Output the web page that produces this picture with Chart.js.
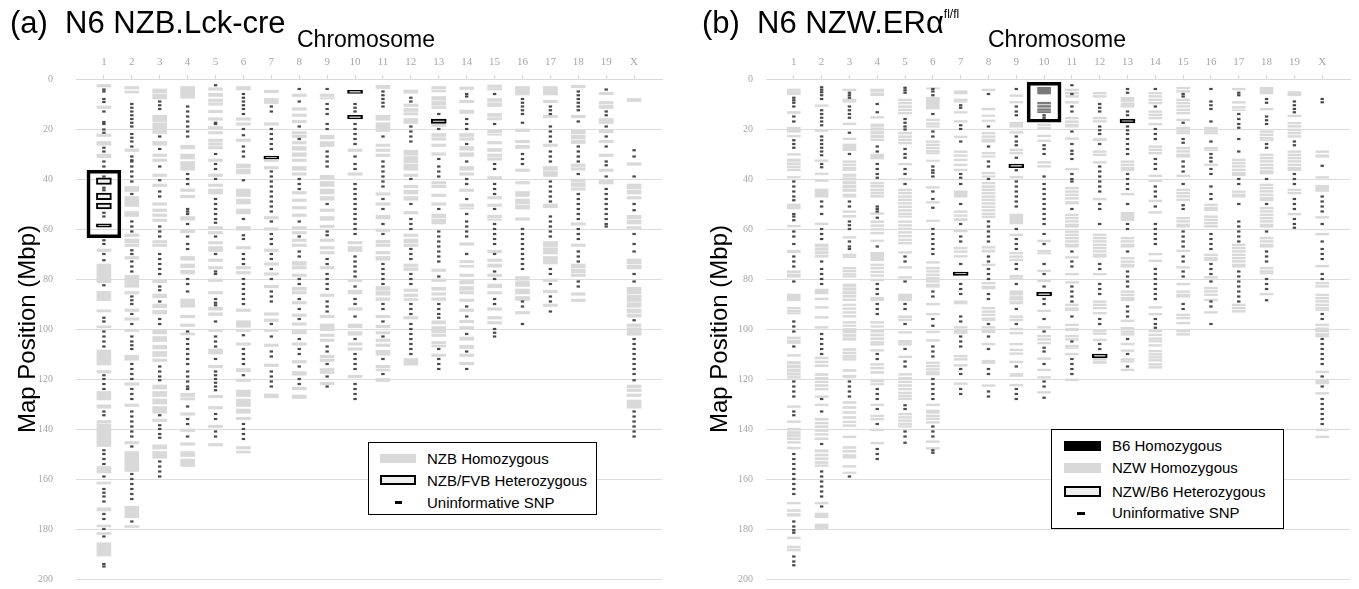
<!DOCTYPE html>
<html>
<head>
<meta charset="utf-8">
<script src="https://cdn.jsdelivr.net/npm/chart.js@4.4.1/dist/chart.umd.min.js"></script>
<style>
html,body{margin:0;padding:0;background:#fff;}
body{width:1359px;height:589px;position:relative;overflow:hidden;font-family:'Liberation Sans',Arial,sans-serif;}
canvas{position:absolute;top:0;}
#cA{left:0;}
#cB{left:680px;}
.t{position:absolute;white-space:pre;color:#000;line-height:1;}
.title{font-size:31px;top:7px;}
.chrom{font-size:23px;top:28px;}
.legend{position:absolute;border:1.5px solid #000;background:#fff;box-sizing:border-box;}
.sw{position:absolute;box-sizing:border-box;}
.lt{position:absolute;font-size:15px;line-height:15px;white-space:pre;color:#000;}
sup{font-size:12px;vertical-align:15px;line-height:0;}
</style>
</head>
<body>
<canvas id="cA" width="680" height="589"></canvas>
<canvas id="cB" width="679" height="589"></canvas>

<div class="t title" style="left:10px;">(a)  N6 NZB.Lck-cre</div>
<div class="t chrom" style="left:297px;">Chromosome</div>
<div class="t title" style="left:702px;">(b)  N6 NZW.ERα<sup>fl/fl</sup></div>
<div class="t chrom" style="left:988px;">Chromosome</div>

<div class="legend" style="left:368px;top:442px;width:229px;height:73px;">
  <div class="sw" style="left:11px;top:11px;width:36px;height:9px;background:#d9d9d9;"></div>
  <div class="lt" style="left:58px;top:8px;">NZB Homozygous</div>
  <div class="sw" style="left:11px;top:32px;width:36px;height:10px;border:2px solid #000;background:#efefef;"></div>
  <div class="lt" style="left:58px;top:30px;">NZB/FVB Heterozygous</div>
  <div class="sw" style="left:26px;top:58px;width:7px;height:3px;background:#000;"></div>
  <div class="lt" style="left:58px;top:52px;">Uninformative SNP</div>
</div>

<div class="legend" style="left:1051px;top:429px;width:233px;height:100px;">
  <div class="sw" style="left:12px;top:11px;width:37px;height:10px;background:#000;"></div>
  <div class="lt" style="left:60px;top:8px;">B6 Homozygous</div>
  <div class="sw" style="left:12px;top:33px;width:37px;height:10px;background:#d9d9d9;"></div>
  <div class="lt" style="left:60px;top:30px;">NZW Homozygous</div>
  <div class="sw" style="left:12px;top:56px;width:37px;height:11px;border:2px solid #000;background:#efefef;"></div>
  <div class="lt" style="left:60px;top:54px;">NZW/B6 Heterozygous</div>
  <div class="sw" style="left:25px;top:82px;width:8px;height:3px;background:#000;"></div>
  <div class="lt" style="left:60px;top:75px;">Uninformative SNP</div>
</div>

<script>
// ---------------- categories ----------------
const chromosomes = ['1','2','3','4','5','6','7','8','9','10','11','12','13','14','15','16','17','18','19','X'];

// ---------------- panel (a) N6 NZB.Lck-cre ----------------
// NZB homozygous segments per chromosome, [start, end] in Mbp
const nzbHomozygous = [
 [[2.2,3.2],[10.8,11.8],[22,23],[25,26.5],[30,31.5],[68,69],[74,81.5],[85,88.6],[92.3,93.2],[98.7,99.5],[108.4,114.4],[116.6,117.6],[125,128.4],[130.3,131.7],[136.6,137.6],[138,147],[155,157.6],[161.2,162],[171.5,172.8],[178.4,179.2],[181.4,182.2],[185.5,190.8]],
 [[3,4],[4.8,5.6],[28,29],[43,45],[47,51],[53,55],[62,63],[64,65.5],[66,67],[71,72],[78.5,83.3],[85,86],[92,93],[95.5,96.5],[100.2,101],[110.5,112.5],[121.5,122.5],[130,131],[145,146],[149,157],[170.9,175.5],[178.6,179.4]],
 [[4,5.5],[6,8],[14.5,17],[17.5,20],[20.5,21.8],[25,26.5],[30,31],[32,33],[38,39],[42,43],[49.5,50.5],[52,53],[54,55],[56,57],[64.6,65.5],[66,67],[80.5,81.5],[86,87.5],[90,91.5],[92.6,94],[100.5,102],[103,105],[106.5,108],[109,111],[112,113],[122.4,124],[125,127],[128,130],[131,133.7],[136,137],[146.3,148],[149,151.7]],
 [[3,7.7],[26.5,28],[30,32],[33,36.5],[44,45],[46.5,47.5],[55,56.5],[60.5,61.5],[71,72.5],[74,75.5],[76.5,78],[88,91.3],[94.5,95.5],[98,99],[101.6,102.4],[125.7,127],[127.5,128.4],[133.5,134.5],[140,141],[145.5,146.5],[149,151],[152,155]],
 [[3.5,4.5],[5.7,7],[8,9],[9.5,10.5],[12.5,13.5],[15.5,16.5],[19,20],[21,22],[24,25],[25.5,26.5],[27,28],[32,33],[38,39],[42,43],[44,46],[59,60],[61,62],[65,66],[67,69],[72,73],[75,76],[80,81],[85,86],[91.3,92.5],[93.5,94.6],[100.2,101],[108,110],[114.5,115.5],[126.5,127.5],[131,132],[138.5,139.5],[145.8,146.8]],
 [[3,4.4],[15.5,16.5],[17.5,18.5],[24,25],[34,35.5],[36,38],[44,47],[48,50],[52,54],[59,60.5],[67,68],[75,76],[77,78],[92,93],[96.7,99.3],[100.2,101],[105.5,106.5],[115.8,117.1],[120,121],[124.4,127],[128,131],[132,133.7],[135.3,136.3],[147,148],[148.8,149.6]],
 [[4.5,5.5],[7.8,9.8],[17.5,18.5],[32.2,33],[35,36],[55,56],[59.5,60.5],[68,69],[73.5,74.5],[77.5,78.5],[82.5,83.5],[93.5,94.5],[96,97],[100.2,101],[106,107],[114,115],[126,127.5]],
 [[6,7],[11.5,12.5],[14,15],[16.5,17.5],[21,22],[22.5,23.5],[25,26],[27,28.5],[29.5,31],[32,33],[35,36.5],[37.5,38.5],[45,46],[48,49],[51,52],[54,55],[59,60],[61,62],[64,65],[66,67],[73,74.5],[75,76],[78,79],[83.3,84.5],[85,86],[89,90],[94,95],[97.5,98.5],[100.5,102],[105.5,106.5],[112.6,113.6],[117,118.5],[123.3,124.3],[126.4,127.8]],
 [[6,7],[7.5,8],[22.5,24],[25,27],[38.5,40],[41,43],[44,46],[47,48.5],[52,53],[55,56.5],[58.5,59.5],[64,65],[67,68],[69,70],[75,76],[86,87],[94.5,95.5],[98,100.7],[102,103],[104,105],[110.5,111.5],[112,113],[115.8,116.8],[117,117.8],[121.3,122.3]],
 [[28,29],[37.5,38.5],[65,66],[67,69],[80.2,81],[84.5,86],[91.5,92.5],[98,99.5],[101,102.5],[105.5,106.5],[107.5,108.5],[118.5,119.5]],
 [[2.5,3.8],[14.5,16.5],[17.5,21],[26,27],[28,29],[30,31],[45.5,46.5],[49.5,50.5],[54.5,56],[60,61],[64.5,65.5],[66,67],[69,70],[71,72.5],[83,84.5],[85,86.5],[87.5,88.6],[94.5,95.5],[98.5,99.5],[101,102],[104,105],[106,107],[108.5,110.5],[114.5,115.5],[116,116.8],[119.8,121]],
 [[4.4,5.7],[10,11],[11.8,13],[13.5,14.4],[15.8,17.8],[28.5,30.5],[31,33.5],[34,36.5],[38,39],[42.5,43.5],[44.5,46],[47,48.5],[53,54],[62,63],[64,65.5],[66,67],[74,75],[75.5,76.6],[84,85],[86,87],[87.8,88.6],[95,96],[111.8,114.5]],
 [[3,4],[4.5,5.2],[7,8.5],[9,10.5],[11,11.8],[18,19],[21.8,23],[23.5,24.5],[26,27],[29.5,30.5],[41,42],[42.5,43.5],[46,47],[49.5,50.5],[54,55.5],[56,58],[76,77],[80,81],[83.3,84.5],[85.5,86.5],[87.5,88.6],[96.7,98],[99,100.7],[100.5,101.5],[102,103],[105,106],[106.5,107.2],[110,111]],
 [[3.2,4.2],[8.5,9.5],[12.4,13.8],[21.8,23],[23.5,24.5],[27,28.5],[29.5,31],[35,36.5],[37.5,38.5],[44,45],[50,51],[51.5,52],[65.5,66.5],[72.6,73.5],[74.5,75.3],[78,79],[80.6,82],[83,84.5],[85,86],[88,89],[92,93],[96.5,97.5],[99,100],[103.2,104.5],[106.5,107.8],[110,111],[113.3,114.3]],
 [[2.4,3.4],[3.8,4.4],[7.8,9],[9.5,11],[13.8,15],[15.5,16.4],[20.5,21.5],[22,22.5],[25,26],[27.8,29],[30,31],[31.5,32.5],[39,40],[47,48],[50,51],[54.5,55.5],[56,56.5],[68.5,69.5],[72,73],[74,75.3],[78,79],[82,83.5],[85,86],[91.5,92.5],[95,96],[97,98]],
 [[3,6.4],[20,21],[24.5,25.5],[26.5,27.8],[36,37],[41,42],[45,47],[48,50],[50.5,52],[55.5,56.5],[79,80.5],[81,83],[84,86],[87,88.6],[93,94]],
 [[3,6.4],[8.5,9.5],[14.5,15.5],[26,27],[35,36.5],[37,39],[50,51.5],[65,67],[67.5,70],[71,74],[80,81],[84.5,85.5],[90,91]],
 [[2.5,3.5],[14.5,15.5],[20.5,22],[22.5,24],[24.5,25.8],[34,35],[35.5,36.5],[40,41],[41.5,43],[43.5,44.5],[57.5,58.5],[66,67],[74,75.5],[76,77.5],[78,79],[85.5,86.5],[88,89]],
 [[5.3,6.3],[9,10],[10.5,11.8],[15.8,16.8],[17,17.8],[20.5,21.5],[24.5,25.5],[30,31],[36,37],[40.5,42]],
 [[7.8,9],[33.5,34.5],[42,44],[44.5,46],[47,48],[54.5,56],[56.5,58],[59,59.8],[72,74],[74.5,76],[83.3,86],[86.5,89],[89.5,91.3],[92,93.5],[94,95.3],[98,99],[99.5,100.7],[100.5,102.5],[122.4,123.5],[124,125],[126,127],[128.4,131.7]]
];
// NZB/FVB heterozygous segments
const nzbFvbHeterozygous = [
 [[39.5,42.2],[45.6,48.3],[49.6,52],[57.9,59.3]],[],[],[],[],[],[[30.8,32]],[],[],[[4.5,5.8],[14.5,16]],[],[],[[16,17.8]],[],[],[],[],[],[],[]
];
// uninformative SNP positions
const nzbSnp = [
 [4.2,5,8,9.2,13,17.2,18,20.2,21.5,27.5,29,33,35,37,39,43.5,44.5,53.5,55,64.5,66,70,72.5,82.5,95.5,97,101,103,105,107,118.5,120,122,124,133,134.5,148.5,150,152,154,159,164,165.5,167,169,174,176,180,183,194,195],
 [10,11.5,13,14.5,16,17.5,19,22,23.5,25,27,31,32.5,33,35,37,39,41,46,57,59,61,68.5,70,73,75,77,87,88.5,90,94,98,103,105,106.5,108,114,116,118,120,124,126,128,133,135,137,139,141,143,147,158,160,162,164,166,168,177],
 [9,10.5,12,23,28,35,40.5,45,47,59,61,63,70,72,74,76,78,83,84.5,89,96,98,115,117,119,120.5,134.5,138.5,140,142,143.5,153,155,157,159],
 [11,13,15,17,19,21,23,38,40,42,52,53,54,58,63,66,68,80,82,85,101,104,106,108,110,112,114,117,119,121,123,124,131,136,138,143],
 [2.5,17.5,18,30,34,36,40,48,50,52,54,56,57.5,63,70,77,78,88,89.5,90.5,97,103,105,107,112,117,118.5,120,121.5,123,124.5,134,136,141,143],
 [6,7.5,9,10.5,12,14,20,22.5,27,29,31,40.5,56,62.5,64,70,72,74,80,82,84,86,88,90,102.5,108,110,112,114,118.5,138,140,142,144],
 [11,13,20,22,24,26,28,37,39,41,43,45,47,49,51,53,57,62,64,66,70,72,76,80,85,87,89,98,103,109,111,117,119,121,123],
 [4,9,19,24,40,42,44,57,63,69,71,80,82,88,92,96,104,108,110,115,120,122],
 [4,10,12,14,18,20,29,31,33,35,50,61,62.5,72,74,78,80,82,84,89,91,93,107,109,114,119,123],
 [10,11.5,13,18,20,22,24,26,31,34,36,42,44,46,48,50,52,54,56,58,60,62,71,73,75,77,79,83,88,90,95,104,110,112,114,116,122,124,126,128],
 [5,6.5,8,9.5,11,23,33,35,37,39,41,43,48,52,58,62,74,76,78,80,82,90,92,97,103,112,118],
 [7.5,9,19,21,23,25,40,50,56,58,60,68,70,72,78,80,82,90,92,94,98,100,102,104,106,108,110],
 [14,20,32,35,37,39,52,61,63,65,67,69,71,73,79,90,92,94,95.5,108,112,114,116],
 [6,7,16,18,20,26,33,40,42,48,54,57,59,61,63,70,91,95,102,109,116],
 [6,18,34,36,42,44,46,52,58,60,62,64,66,70,77,80,88,90,100,101.5,103],
 [8,9.5,11,12.5,14,17.5,30,32,34,60,62,64,66,68,70,72,74,76,89,91,98],
 [11,12.5,14,19,21,23,25,29,31,33,41,43,45,47,49,55,57,59,61,63,76,78,82,87,89,93],
 [5,6.5,8,9.5,11,12.5,17,27,29,31,33,38,46,48,50,52,54,56,60,62,64,69,71,73,81,83],
 [4.2,13,14.5,19,23,27,33,34.5,39,44,46,48,50,52,54,56,58,59],
 [28.5,31,39,50,52.5,62,66,69,78,81,96.5,104,106,108,110,112,114,116,118,120.5,133,135,137,139,141,143]
];
// highlighted region (large outlined box)
const nzbHighlight = [[[36.5,63.5]],[],[],[],[],[],[],[],[],[],[],[],[],[],[],[],[],[],[],[]];

// ---------------- panel (b) N6 NZW.ERα fl/fl ----------------
const nzwHomozygous = [
 [[4,4.6],[5,5.5],[5.8,6.3],[13,13.8],[19.3,20],[20.5,21.3],[22.5,23.2],[29.8,30.5],[32,33],[33.5,34.3],[34.8,35.5],[36,36.7],[39,39.6],[50,51],[51.3,52],[58.5,59.2],[68.5,69.5],[76.7,77.5],[78,79.3],[86,88.7],[91.3,92],[92.5,93.2],[93.5,94],[103.2,104],[104.5,105.8],[110.2,110.9],[113,114],[114.5,115.5],[116,117],[117.5,118.5],[119,119.7],[130.7,131.4],[136.7,137.4],[139.7,140.5],[141,141.8],[142.2,143],[143.5,144.3],[145,145.7],[147.3,148],[169.3,170],[172.2,173],[173.8,174.9],[183.2,183.9],[186.8,187.5],[188,188.8]],
 [[10.3,11],[20.3,21],[32.3,33],[37.6,38.3],[40.3,41],[44,47.3],[57.6,58.3],[66,67],[67.5,68.5],[69,70],[70.5,71.3],[84,86],[87.6,88.3],[91,91.7],[95,95.7],[99,99.7],[111.2,112],[112.8,113.5],[114.3,115.1],[117.8,118.6],[119.3,120],[120.8,121.5],[122.2,123],[123.7,124.4],[126.7,127.4],[130,130.7],[135.7,136.5],[137.3,138],[138.7,139.5],[140.2,141],[141.8,142.5],[143.5,144.3],[148.3,149.2],[150,150.8],[151.5,152.3],[153,153.8],[154.3,155],[169.3,170],[173.6,175.5],[178,180.2]],
 [[4,4.7],[8,8.6],[8.8,9.3],[17.6,18.3],[23.6,24.3],[26,28.7],[32.7,33.4],[34,34.7],[35.3,36],[36.2,36.7],[38,39],[39.5,40.5],[41,42],[42.5,43.5],[44,45],[46,47.3],[52.7,53.4],[54.5,55.3],[63,63.7],[70,70.7],[71,71.5],[75.3,76],[76.5,77.2],[77.8,78.5],[78.8,79.3],[82,83],[83.5,84.5],[85,86],[86.5,87.3],[88,88.7],[90,90.7],[91.5,92.2],[93,93.7],[94.6,95.3],[97,97.7],[98.4,99],[99.8,100.4],[100.5,101.5],[102,103],[103.5,104.5],[107.8,108.6],[109.2,110],[110.6,111.4],[111.8,112.5],[116.2,117],[118.5,119.5],[129,129.8],[131,131.8],[133,133.8],[135,135.8],[136.8,137.5],[138.3,139],[142.8,143.5],[147,147.8],[148.5,149.3],[150.2,151],[151,151.7],[154.6,155.3],[157.2,157.8]],
 [[4,5],[5.5,6.7],[15,15.7],[18,19],[19.5,20.5],[21,22],[22.5,23.5],[24,24.7],[30,32],[41.3,42],[42.5,43.3],[44,44.8],[45.3,46],[46.5,47.3],[53.5,54.2],[56.7,57.5],[58.3,59],[59.8,60.5],[61.3,62],[64.4,65],[69.3,72.7],[74,74.7],[75.3,76],[76.8,77.5],[78.3,79],[80,80.7],[87.3,88.7],[97,97.7],[98.7,99.3],[100.5,101.3],[102,102.8],[103.5,104.3],[105,105.8],[106,106.5],[108.2,108.9],[113.8,114.5],[115.3,116],[117,117.8],[120.5,121.2],[121.8,122.4],[130,130.7],[134.4,135.1],[135.7,136.4],[140,140.7],[145.3,146]],
 [[8,8.7],[9.3,10],[10.7,11.4],[12,12.7],[13.3,14],[21.3,22],[22.7,23.4],[24,24.7],[25.3,26],[33.7,34.4],[39.7,40.4],[44,44.7],[45.3,46],[46.7,47.4],[48,48.7],[49.4,50.1],[50.8,51.5],[52.2,52.9],[53.6,54.3],[54.8,55.3],[56.7,57.4],[58.2,58.9],[59.6,60.3],[61,61.7],[62.5,63.2],[64,64.7],[65.3,66],[69,69.7],[75,75.7],[79,79.7],[86,88.7],[94.7,95.5],[96,96.7],[101,101.7],[104.5,105.5],[105.8,106.5],[110.8,111.5],[117.8,118.5],[119.3,120],[120.8,121.5],[122.2,123],[123.7,124.4],[125.2,126],[126.5,127.2],[127.6,128.3],[133.7,134.4],[135,135.7],[136.3,137],[137.6,138.3],[138.7,139.3]],
 [[3.5,4],[7.3,12],[16,16.7],[17.5,18.2],[18.7,19.3],[24.7,25.4],[26,26.7],[27.3,28],[28.6,29.3],[29.5,30],[32.4,33],[43,43.7],[49,49.7],[56.4,57],[73,73.7],[75.3,76],[76.6,77.3],[78,78.7],[79.3,80],[80.6,81.3],[82,83.3],[89.7,90.4],[93.7,94.4],[100.8,101.5],[104.2,104.9],[113.2,113.9],[114.5,115.2],[115.8,116.5],[117,117.7],[117.8,118.4],[130,130.7],[132.4,133.7],[134.4,135.1],[135.6,136.3],[137,137.7],[144.7,145.4],[147.4,148.1]],
 [[4.7,6],[8,8.7],[9,9.3],[13,13.7],[16.6,17.3],[22.8,23.5],[28.7,29.4],[30.3,31],[32,32.7],[34,34.7],[36,36.7],[44.7,47.3],[52.7,53.4],[54.3,55],[55.8,56.7],[60.5,61.2],[67.3,68],[68.7,69.4],[70.6,71.3],[88.7,90],[99,99.7],[100.5,101.8],[110.5,111.2],[111.8,112.5],[114.2,114.9],[121.5,122.2]],
 [[4,4.7],[11.7,12.4],[14.4,15],[16.4,17],[21.3,22],[22.7,23.4],[24,25.3],[29.3,30],[30.7,31.3],[37.3,38],[38.7,39.3],[41.3,42],[42.7,43.4],[44,44.7],[45.3,46],[46.7,47.4],[48,48.7],[49.4,50.1],[50.8,51.5],[52.2,52.9],[53.6,54.3],[54.8,55.5],[67,67.7],[68.4,69.3],[74,74.7],[81.3,82],[82.8,83.5],[83.5,84],[91.3,92],[92.7,93.4],[94,94.7],[95.5,96.7],[99,99.7],[100.5,101.5],[105.7,106.4],[112.5,113.2],[113.3,113.8],[122.3,123]],
 [[6.3,7],[9,9.6],[17.3,19.3],[21,21.7],[28,28.7],[29.3,30],[38.9,39.6],[54,58],[62,62.7],[69.3,70],[70.7,71.4],[72,72.7],[78.5,79.2],[79.5,80],[84.7,86.5],[87,88.5],[89,90],[94.7,95.4],[96,96.7],[99.7,100.4],[101.3,102],[105.7,106.4],[108,108.7],[109.5,110.2],[112.8,113.5],[117.8,119],[122.1,122.8]],
 [[18,18.7],[19.3,20],[22.4,23.1],[24.4,25],[33,33.7],[34.6,35.3],[64.4,65.1],[68.5,69.2],[69.5,70],[76.4,77.1],[80.4,81.1],[92.4,93.1],[99,99.7],[102.5,103.2],[103.8,104.5],[105.3,106],[111.5,112.2],[116,116.7],[119,119.7],[125,125.7]],
 [[4,4.7],[5.3,6],[6.6,7.3],[9,9.7],[15.3,16],[16.7,17.4],[18,18.7],[19,19.3],[23.5,24.2],[35.7,36.4],[43.3,44],[44.7,45.4],[46,46.7],[47.4,48.1],[49,50],[54,54.7],[55.3,56],[56.6,57.3],[58,59.3],[60.7,61.4],[62,62.7],[63.3,64],[64.6,65.3],[66,67.3],[71,71.7],[77.7,78.4],[81,81.7],[90,90.7],[91.5,92.7],[98,98.7],[99.7,100.7],[102.5,103.2],[103.8,104.5],[106.5,107.2],[107.5,107.8],[109.7,110.4],[120,120.7]],
 [[5.3,6],[6.6,7.3],[15.3,16],[16.6,17.3],[23.8,24.7],[28.7,29.4],[30,30.7],[33,33.7],[47.7,48.4],[62,62.7],[63.3,64],[64.6,65.3],[66,66.7],[67.3,68],[68.6,69.3],[70,71.3],[77.7,78.4],[88.7,89.4],[90,90.7],[91.3,92],[93.3,94],[100.3,101],[101.5,102.2],[104,104.7],[111.8,112.5],[113,113.8]],
 [[7.3,9],[9.5,11.3],[32.7,33.4],[34,34.7],[35.3,36.7],[45.7,46.4],[53.3,56.7],[63.3,64],[64.6,65.3],[66,67.3],[71.3,72],[72.7,73.4],[74,75.3],[84.7,85.4],[86,86.7],[87.3,88.7],[96.4,97.1],[99.3,100],[100.7,101.4],[101.8,102.5],[105.7,106.4],[108.3,109],[111.8,112.5],[112.7,113.3],[116,116.7]],
 [[5.3,6],[6.6,7.3],[8,8.7],[9.3,10],[12.7,13.4],[14,14.7],[15.3,16],[17.7,18.4],[26.7,27.4],[28,28.7],[29.3,30],[38.4,39.1],[40.4,41.1],[48.4,49.1],[53,53.7],[69.7,70.4],[72.4,73.1],[91,91.7],[93.7,94.4],[100.5,101.2],[102,102.7],[103.5,104.2],[104.6,105.2],[106.2,106.9],[108.5,109.2],[109.8,110.5],[111,111.7],[112.2,112.9],[113.8,114.5],[115,115.7]],
 [[3.3,4],[4.6,5.3],[8,8.7],[9.3,10],[10.6,11.3],[12,12.7],[13.3,14],[16,16.7],[19.3,20],[20.6,21.3],[21.5,22],[27.3,28],[28.6,29.3],[30,30.7],[30.8,31.3],[38.4,39.1],[44,44.7],[45.3,46],[46.6,47.3],[48,48.7],[55.3,56],[56.6,57.3],[58,58.7],[58.8,59.3],[68.4,69.1],[75,75.7],[81.7,82.4],[84.7,85.4],[86,86.7],[86.8,87.3],[94,94.7],[95.3,96],[97.3,98],[100.5,101.2],[101.8,102.5]],
 [[19.3,20],[20.6,21.3],[21.5,22],[27.3,28],[28.3,28.7],[34,34.7],[50,50.7],[51.3,52],[52.2,52.7],[54.7,55.4],[56,56.7],[57.3,58],[58.6,59.3],[70,70.7],[71.3,72],[72.2,72.7],[79,79.7],[83.3,84],[84.6,85.3],[86,86.7],[88,88.7],[93,93.7]],
 [[3.7,4.4],[9,9.7],[11,11.7],[12.3,12.7],[32,32.7],[33.3,34],[34.6,35.3],[36,36.7],[37.3,38.7],[44.7,45.4],[46,46.7],[47,47.3],[66,66.7],[67.3,68],[68.6,69.3],[70,70.7],[71.3,72],[72.6,73.3],[74,75.3],[90,90.7],[91.3,92],[92.6,93.3]],
 [[3.3,6],[11.7,12.4],[20.7,21.4],[22,22.7],[23.3,24],[24.3,24.7],[30,30.7],[31.3,32],[32.6,33.3],[34,34.7],[35.3,36],[36.6,38],[42,42.7],[43.3,44],[44.6,45.3],[46,46.7],[47.3,48.7],[51.3,52],[52.6,53.3],[54,54.7],[55.3,56],[56.6,57.3],[58,59.3],[63.3,64],[64.6,65.3],[66,67.3],[75.3,76],[76.6,77.3],[77.5,78],[85.7,86.4]],
 [[5,6.7],[14.4,15.1],[17.3,18],[18.6,19.3],[20,20.7],[21.3,22],[22.6,23.3],[28.7,29.4],[30,30.7],[31.3,32],[32.6,33.3],[34,34.7],[35.3,36.7],[44,44.7],[45.3,46],[53.7,54.4]],
 [[28.7,29.4],[30.3,31.3],[39,39.7],[42.5,45],[55,55.7],[61.7,62.4],[74.5,75.2],[81.3,82],[82.6,83.3],[86,86.7],[87.3,88],[88.6,89.3],[90,90.7],[91.3,92],[92.3,92.7],[98,98.7],[99.5,100.7],[100.5,101.2],[101.8,103.2],[116.8,117.5],[120.3,122],[125.4,126.1],[140,140.7],[142.8,143.5]]
];
// B6 homozygous segments
const b6Homozygous = [
 [],[],[],[],[],[],[],[],[],[[3.3,6],[9.3,10],[10.6,11.3],[11.9,12.6],[13,13.5]],[],[],[],[],[],[],[],[],[],[]
];
// NZW/B6 heterozygous segments
const nzwB6Heterozygous = [
 [],[],[],[],[],[],[[77.2,78.6]],[],[[34,35.5]],[[85.3,86.8]],[],[[110,111.5]],[[16,17.6]],[],[],[],[],[],[],[]
];
const nzwSnp = [
 [7.5,8.5,9.5,11,15,17,24.5,26,27.5,41,43,45,47,48.5,54,55,56.5,61,63,66,71,73,75,81,97,99,101,107,121,123,125,127,133,134.5,150,152,154,156,158,160,162,164,166,177,179,180.5,181.5,191,193,194.5],
 [3.3,4.3,5.3,6.5,8,12.5,14,15.5,17,18.5,23,24.5,26,27.5,29,30.5,34,35.3,49,51,54,60,62,64,73,76,78,80,82,102,104,106,108,110,128,133,146,157,159,161,163,165,167,171],
 [5.5,6.5,7.5,11,12.5,14,15.5,21.5,30,49,51,57,58.5,60,65,67,68,121,123,125,127,159],
 [10,13.3,27,29,34,36,38,39.5,51,52,53,55.5,67,82,84,86,90,92,94,110,112,124,126,128,132,138,148,150,152],
 [3.5,4.5,5.5,16,17.5,19,20.2,28,30,31.5,36,38,42,71,73,81,90,92,98,108,113,115,130.5,132,141,143,145.5],
 [4,5,6.5,14,21,23,35,36.5,37.5,39,45,48,51.5,60,62,64,66,68,70,85,87,96,98.7,107,109,111,120,122,124,126,128,139,141,143,148.5,149.5],
 [10.5,11.5,18.5,20,25,38,39.5,42,50,58,63,65,74,82,84,86,95,97,103,105,107,116,118,124,126],
 [6,19,27,33,35,40,57,59,61,63,65,71,73,76,78,80,86,88,98,103,108,116,118,125,127],
 [4,11,13,14.5,23,25,26.5,31.5,36.5,41,43,45,47,49,51,60,64,66,68,74,76,82,92,98,115,124,126,128],
 [14.5,15.5,16.5,26.5,28,30,39,42,44,46,48,50,52,54,56,58,62,66,74,78,83,88,90,96,101,107.5,109,114,121,123,127.5],
 [2.5,6,11,13,21,26,28.7,30,32,38,40,41,52,69,73,75,83,85,87,89,95,105,112,114,116,118],
 [10,11.5,13,19,20.5,22,26,35,37,39,41,43,45,50,52,58,74,76,82,84,86,96,98,106,108],
 [4,5.5,13,14.5,19,20.5,22,24,26,28,30,38,40,42,44,50,58,60,69,77,79,81,83,91,93,95,104,110,115],
 [4,11,20,22,24,32,34,36,43,45,47,51,58,60,62,64,66,76,78,80,82,84,86,88,96,98,99.5],
 [6,7,17.5,24,25.5,33,35,37,42,50.5,52,61,63,65,67,71,73,77,79,90,92],
 [4,9,10.5,12,17,25,30,31.5,33,36,38,43,46,48,62,64,66,68,74,76,78,81,89,91,98],
 [5.5,6.5,14,16,18,19.5,24,29,40,42,50,57,59,61,63,65,77,79,81,83,85,87,89],
 [8,9.5,15,16.5,18,26,27.5,40,50,61,69,71,73,80,82,84,88.5],
 [9,10.5,12,13.3,25,26.5,38,40,42,48,50,52,56,58,59.5],
 [8,9.3,34.7,47,49,51,53,58,65,68,70,72,78,80,94,96,104,106,108,110,112,114,119,123,128,130,132,134,136,138]
];
const nzwHighlight = [[],[],[],[],[],[],[],[],[],[[1.3,17.3]],[],[],[],[],[],[],[],[],[],[]];

// ---------------- helpers: turn per-chromosome lists into library data ----------------
function toSegments(list) {
  const out = [];
  list.forEach((segs, i) => segs.forEach(s => out.push({ x: i + 1, y: [s[0], s[1]] })));
  return out;
}
function toPoints(list) {
  const out = [];
  list.forEach((vals, i) => vals.forEach(v => out.push({ x: i + 1, y: v })));
  return out;
}

function buildChart(canvasId, spec) {
  const datasets = [
    { type: 'bar', label: 'highlight', data: toSegments(spec.highlight), order: 0, grouped: false,
      backgroundColor: 'rgba(0,0,0,0)', borderColor: '#000', borderWidth: 3, borderSkipped: false, barThickness: 34 },
    { type: 'bar', label: 'het', data: toSegments(spec.het), order: 1, grouped: false,
      backgroundColor: '#f0f0f0', borderColor: '#000', borderWidth: 2, borderSkipped: false, barThickness: 15 },
    { type: 'scatter', label: 'snp', data: toPoints(spec.snp), order: 2,
      pointStyle: 'line', pointRadius: 1.7, pointBorderWidth: 2.2, pointBorderColor: '#4a4a4a', pointBackgroundColor: '#4a4a4a', pointHoverRadius: 1.7 },
    { type: 'bar', label: 'b6', data: toSegments(spec.dark), order: 3, grouped: false,
      backgroundColor: '#7a7a7a', borderWidth: 0, barThickness: spec.barW },
    { type: 'bar', label: 'hom', data: toSegments(spec.grey), order: 4, grouped: false,
      backgroundColor: '#d9d9d9', borderWidth: 0, barThickness: spec.barW }
  ];
  return new Chart(document.getElementById(canvasId), {
    type: 'bar',
    data: { datasets },
    options: {
      responsive: false,
      animation: false,
      events: [],
      layout: { padding: { left: 0, right: spec.padRight, top: 0, bottom: 10 }, autoPadding: false },
      plugins: { legend: { display: false }, tooltip: { enabled: false } },
      scales: {
        x: {
          type: 'linear', position: 'top', min: 0, max: 21, offset: false,
          afterBuildTicks: s => { s.ticks = chromosomes.map((c, i) => ({ value: i + 1 })); },
          afterFit: s => { s.height = 79; },
          ticks: { callback: v => chromosomes[v - 1] || '', autoSkip: false, maxRotation: 0, minRotation: 0,
                   color: '#a6a6a6', font: { family: 'Liberation Serif', size: 11 }, padding: 6 },
          grid: { drawOnChartArea: false, drawTicks: true, tickLength: 4, color: '#d6d6d6', offset: false },
          border: { display: true, color: '#d9d9d9' }
        },
        y: {
          type: 'linear', reverse: true, min: 0, max: 200,
          ticks: { stepSize: 20, color: '#a6a6a6', font: { family: 'Liberation Serif', size: 10 }, padding: 3 },
          afterFit: s => { s.width = spec.yWidth; },
          grid: { color: '#dcdcdc', drawTicks: true, tickLength: spec.tickGap, tickColor: 'rgba(0,0,0,0)' },
          border: { display: false },
          title: { display: true, text: 'Map Position (Mbp)', color: '#000',
                   font: { family: 'Liberation Sans', size: 24 }, padding: { top: spec.titlePad, bottom: 0 } }
        }
      }
    }
  });
}

buildChart('cA', { grey: nzbHomozygous, dark: chromosomes.map(() => []), het: nzbFvbHeterozygous, snp: nzbSnp,
  highlight: nzbHighlight, barW: 14, padRight: 18, yWidth: 76, tickGap: 20, titlePad: 14 });
buildChart('cB', { grey: nzwHomozygous, dark: b6Homozygous, het: nzwB6Heterozygous, snp: nzwSnp,
  highlight: nzwHighlight, barW: 13, padRight: 9, yWidth: 86, tickGap: 10, titlePad: 26 });
</script>
</body>
</html>
